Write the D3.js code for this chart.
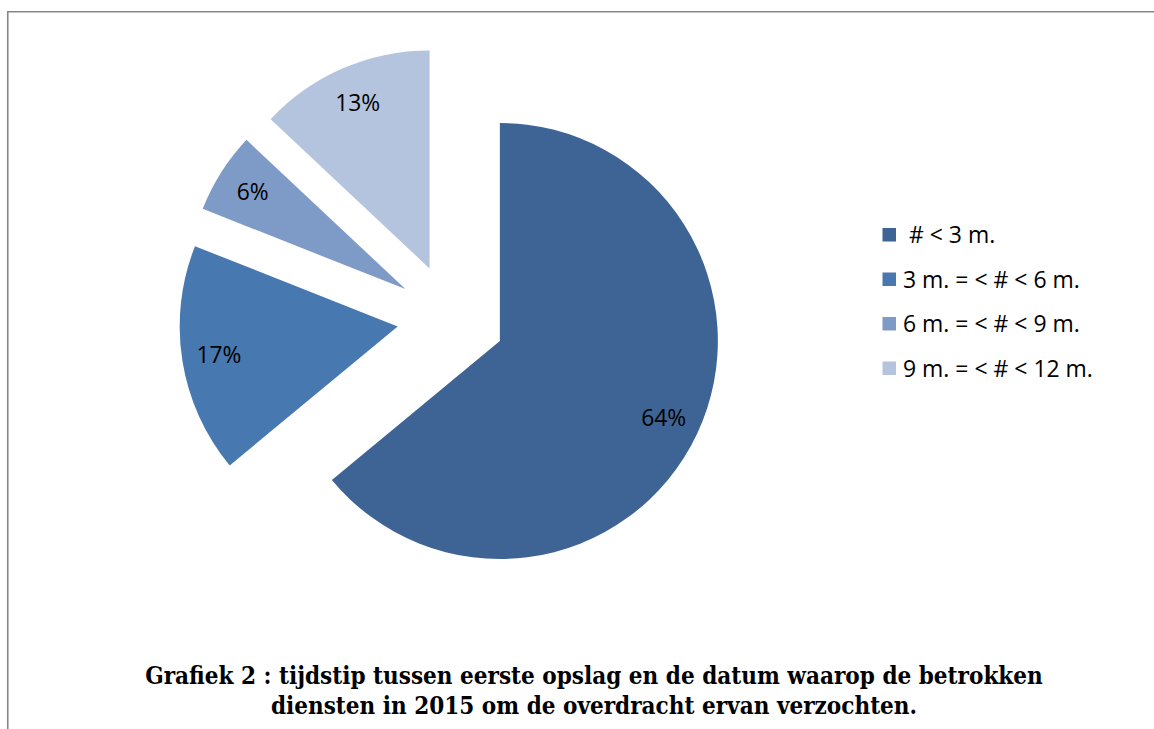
<!DOCTYPE html>
<html><head><meta charset="utf-8">
<script src="https://cdn.jsdelivr.net/npm/d3@7"></script>
<style>body{margin:0;background:#fff;} svg{display:block;}</style>
</head><body>
<svg id="c" width="1154" height="729"></svg>
<script>
const categories = [" # < 3 m.", "3 m. = < # < 6 m.", "6 m. = < # < 9 m.", "9 m. = < # < 12 m."];
const values = [64, 17, 6, 13];
const labels = ["64%", "17%", "6%", "13%"];
const colors = ["#3D6494", "#4878B0", "#7E9BC8", "#B4C3DE"];
const titleLines = ["Grafiek 2 : tijdstip tussen eerste opslag en de datum waarop de betrokken",
                    "diensten in 2015 om de overdracht ervan verzochten."];

const svg = d3.select("#c");
svg.append("path").attr("d","M7.75,729V11.75H1154").attr("fill","none").attr("stroke","#868686").attr("stroke-width",1.6);

const sansFont = "'Open Sans', Lato, sans-serif";
function fitSize(text, family, weight, targetW){
  const t = svg.append("text").style("font-family",family).style("font-weight",weight)
    .style("font-size","20px").style("white-space","pre").text(text);
  const w = t.node().getComputedTextLength(); t.remove();
  return 20*targetW/w;
}

const cx = 451, cy = 318, R = 218, explode = 54, labelR = 181;
const arcs = d3.pie().sort(null).value(d=>d)(values);
const arcGen = d3.arc().innerRadius(0).outerRadius(R);
const g = svg.append("g").attr("transform",`translate(${cx},${cy})`);
const labFs = fitSize("64%", sansFont, "normal", 45);
arcs.forEach((a,i)=>{
  const mid = (a.startAngle+a.endAngle)/2;
  const ox = Math.sin(mid)*explode, oy = -Math.cos(mid)*explode;
  g.append("path").attr("d", arcGen(a)).attr("fill", colors[i])
    .attr("transform",`translate(${ox},${oy})`);
  g.append("text").attr("x", ox+Math.sin(mid)*labelR).attr("y", oy-Math.cos(mid)*labelR)
    .attr("dy","0.36em").attr("text-anchor","middle")
    .style("font-family",sansFont).style("font-size",labFs+"px").attr("fill","#000")
    .text(labels[i]);
});

const leg = svg.append("g");
const rowY = [235, 279.5, 324, 368.5];
const legFs = fitSize(categories[3], sansFont, "normal", 190);
categories.forEach((c,i)=>{
  leg.append("rect").attr("x",882.5).attr("y",rowY[i]-7).attr("width",13.5).attr("height",13.5).attr("fill",colors[i]);
  leg.append("text").attr("x",903).attr("y",rowY[i]).attr("dy","0.36em")
    .style("font-family",sansFont).style("font-size",legFs+"px").style("white-space","pre")
    .attr("fill","#000").text(c);
});

const serif = "'DejaVu Serif Condensed', 'Liberation Serif', serif";
const fs = fitSize(titleLines[0], serif, "bold", 898);
svg.append("text").attr("x",594).attr("y",684).attr("text-anchor","middle")
  .style("font-family",serif).style("font-weight","bold").style("font-size",fs+"px").attr("fill","#000").text(titleLines[0]);
svg.append("text").attr("x",594).attr("y",714).attr("text-anchor","middle")
  .style("font-family",serif).style("font-weight","bold").style("font-size",fs+"px").attr("fill","#000").text(titleLines[1]);
</script>
</body></html>
